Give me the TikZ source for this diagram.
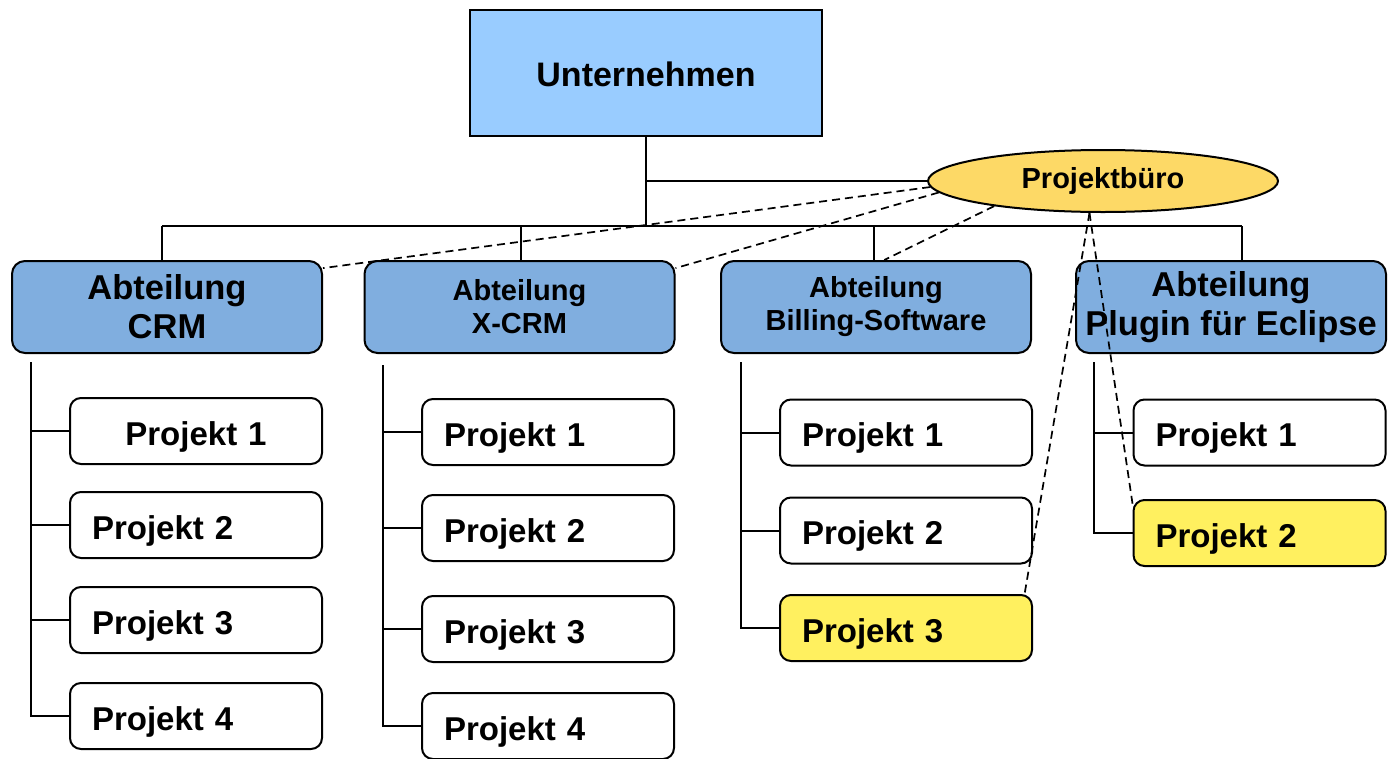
\documentclass[tikz,border=0pt]{standalone}
\usepackage{fontspec}
\setmainfont{Liberation Sans}
\usetikzlibrary{shapes.geometric}
\definecolor{topblue}{HTML}{99CCFF}
\definecolor{deptblue}{HTML}{80AEDF}
\definecolor{pbgold}{HTML}{FDD966}
\definecolor{projyellow}{HTML}{FFF05F}
\tikzset{
 topbox/.style={draw, line width=2pt, fill=topblue, minimum width=352pt, minimum height=126pt, inner sep=0pt, text height=26pt, text depth=0pt, font=\fontsize{34}{40}\selectfont\bfseries},
 deptbox/.style={draw, line width=2pt, fill=deptblue, rounded corners=13pt, minimum width=310pt, minimum height=92pt, inner sep=0pt, align=center},
 bigfont/.style={font=\fontsize{34.5}{39}\selectfont\bfseries},
 smallfont/.style={font=\fontsize{29}{33}\selectfont\bfseries},
 projbox/.style={draw, line width=2pt, fill=white, rounded corners=11pt, minimum height=66pt, inner xsep=22pt, inner ysep=0pt, text width=208pt, text height=28pt, text depth=0pt, align=left, font=\fontsize{33}{38}\selectfont\bfseries},
 hl/.style={fill=projyellow},
 pbell/.style={ellipse, draw, line width=2pt, fill=pbgold, minimum width=350pt, minimum height=62pt, inner sep=0pt, font=\fontsize{29}{33}\selectfont\bfseries},
 conn/.style={line width=2pt},
 dashconn/.style={line width=1.7pt, dash pattern=on 8pt off 5pt},
}
\begin{document}
\begin{tikzpicture}[x=1pt,y=-1pt]
\useasboundingbox (0,0) rectangle (1388,758);
\fill[white] (0,0) rectangle (1388,758);
% coordinates for connector bends
\coordinate (bus) at (646,226);
\coordinate (b1) at (162,226);
\coordinate (b2) at (521,226);
\coordinate (b3) at (874,226);
\coordinate (b4) at (1242,226);
\coordinate (s1) at (31,362);
\coordinate (s2) at (383,365);
\coordinate (s3) at (741,362);
\coordinate (s4) at (1094,362);
% nodes
\node[topbox] (U) at (646,73) {Unternehmen};
\node[pbell] (PB) at (1103,181) {Projektbüro};
\node[deptbox,bigfont] (d1) at (167,307) {Abteilung\\CRM};
\node[deptbox,smallfont] (d2) at (519.5,307) {Abteilung\\X-CRM};
\node[deptbox,smallfont] (d3) at (876,307) {Abteilung\\Billing-Software};
\node[deptbox,bigfont] (d4) at (1231,307) {Abteilung\\Plugin für Eclipse};
\node[projbox,align=center] (p11) at (196,431) {Projekt 1};
\node[projbox] (p12) at (196,525) {Projekt 2};
\node[projbox] (p13) at (196,620) {Projekt 3};
\node[projbox] (p14) at (196,716) {Projekt 4};
\node[projbox] (p21) at (548,432) {Projekt 1};
\node[projbox] (p22) at (548,528) {Projekt 2};
\node[projbox] (p23) at (548,629) {Projekt 3};
\node[projbox] (p24) at (548,726) {Projekt 4};
\node[projbox] (p31) at (906,432.5) {Projekt 1};
\node[projbox] (p32) at (906,530.5) {Projekt 2};
\node[projbox,hl] (p33) at (906,628) {Projekt 3};
\node[projbox] (p41) at (1259.5,432.5) {Projekt 1};
\node[projbox,hl] (p42) at (1259.5,533) {Projekt 2};
% tree connectors
\draw[conn] (U.south) -- (bus);
\draw[conn] (U.south |- PB.west) -- (PB.west);
\draw[conn] (b1) -- (b4);
\draw[conn] (b1) -- (b1 |- d1.north);
\draw[conn] (b2) -- (b2 |- d2.north);
\draw[conn] (b3) -- (b3 |- d3.north);
\draw[conn] (b4) -- (b4 |- d4.north);
\draw[conn] (s1) |- (p14.west);
\draw[conn] (s1 |- p11.west) -- (p11.west);
\draw[conn] (s1 |- p12.west) -- (p12.west);
\draw[conn] (s1 |- p13.west) -- (p13.west);
\draw[conn] (s2) |- (p24.west);
\draw[conn] (s2 |- p21.west) -- (p21.west);
\draw[conn] (s2 |- p22.west) -- (p22.west);
\draw[conn] (s2 |- p23.west) -- (p23.west);
\draw[conn] (s3) |- (p33.west);
\draw[conn] (s3 |- p31.west) -- (p31.west);
\draw[conn] (s3 |- p32.west) -- (p32.west);
\draw[conn] (s4) |- (p42.west);
\draw[conn] (s4 |- p41.west) -- (p41.west);
% dashed links from Projektbuero
\draw[dashconn] (PB.182) -- (d1.14);
\draw[dashconn] (PB.184) -- (d2.14);
\draw[dashconn] (PB.193) -- (d3.80);
\draw[dashconn] (PB.247) -- (p33.16);
\draw[dashconn] (PB.247) -- (p42.167);
\end{tikzpicture}
\end{document}
